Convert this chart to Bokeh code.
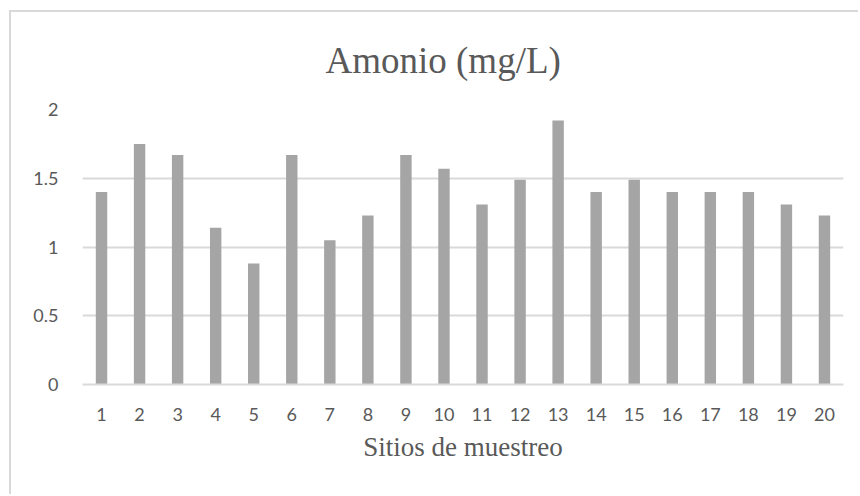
from bokeh.plotting import figure
from bokeh.models import FactorRange, Range1d, FixedTicker, NumeralTickFormatter, ColumnDataSource
from bokeh.embed import file_html
from bokeh.resources import INLINE

# Data
sites = [str(i) for i in range(1, 21)]
amonio = [1.40, 1.75, 1.67, 1.14, 0.88, 1.67, 1.05, 1.23, 1.67, 1.57,
          1.31, 1.49, 1.92, 1.40, 1.49, 1.40, 1.40, 1.40, 1.31, 1.23]
y_ticks = [0, 0.5, 1, 1.5, 2]
title_text = "Amonio (mg/L)"
x_label = "Sitios de muestreo"

source = ColumnDataSource(data=dict(site=sites, value=amonio))

chart_border = {
    "border-left": "2px solid #d9d9d9",
    "border-top": "2px solid #d9d9d9",
}

p = figure(width=849, height=484, x_range=FactorRange(*sites, range_padding=0),
           y_range=Range1d(0, 2), output_backend="svg", toolbar_location=None,
           min_border_left=71, min_border_right=17, min_border_top=96, min_border_bottom=112,
           margin=(10, 0, 0, 9), styles=chart_border)

p.vbar(x="site", top="value", width=0.30, source=source,
       fill_color="#a5a5a5", line_color=None)

p.title.text = title_text
p.title.text_font = "Liberation Serif"
p.title.text_font_size = "37px"
p.title.text_font_style = "normal"
p.title.text_color = "#595959"
p.title.align = "left"
p.title.vertical_align = "top"
p.title.offset = 243
p.title.standoff = 54

p.outline_line_color = None
p.background_fill_color = "white"
p.border_fill_color = "white"

p.xgrid.grid_line_color = None
p.ygrid.grid_line_color = "#d9d9d9"
p.ygrid.grid_line_width = 2
p.yaxis.ticker = FixedTicker(ticks=y_ticks)
p.yaxis.formatter = NumeralTickFormatter(format="0.[0]")

for ax in (p.xaxis[0], p.yaxis[0]):
    ax.major_tick_line_color = None
    ax.minor_tick_line_color = None
    ax.major_tick_out = 0
    ax.major_tick_in = 0
    ax.major_label_text_font = "Lato"
    ax.major_label_text_font_size = "18px"
    ax.major_label_text_color = "#595959"

p.yaxis.axis_line_color = None
p.yaxis.major_label_standoff = 24
p.xaxis.axis_line_color = "#d9d9d9"
p.xaxis.axis_line_width = 2
p.xaxis.major_label_standoff = 23
p.xaxis.axis_label = x_label
p.xaxis.axis_label_text_font = "Liberation Serif"
p.xaxis.axis_label_text_font_size = "27px"
p.xaxis.axis_label_text_font_style = "normal"
p.xaxis.axis_label_text_color = "#595959"
p.xaxis.axis_label_standoff = 8

open("out.html", "w").write(file_html(p, INLINE))
